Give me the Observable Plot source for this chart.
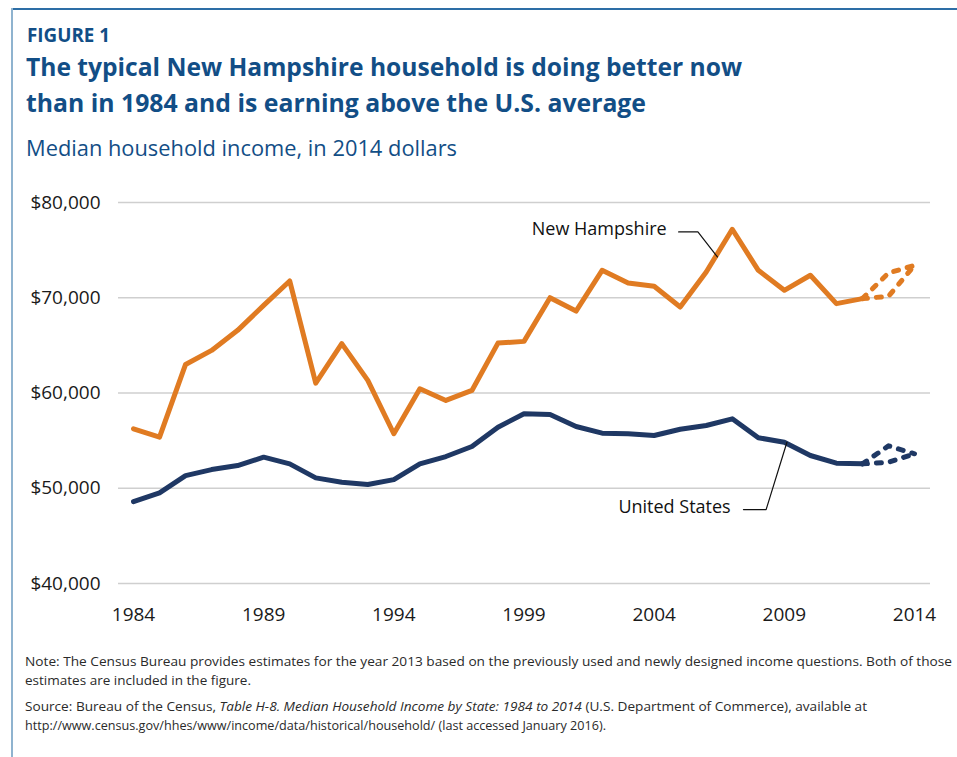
<!DOCTYPE html>
<html><head><meta charset="utf-8">
<script src="https://cdn.jsdelivr.net/npm/d3@7"></script>
<script src="https://cdn.jsdelivr.net/npm/@observablehq/plot@0.6"></script>
<style>
body{margin:0;background:#fff;font-family:"Open Sans",sans-serif;}
#page{position:relative;width:957px;height:757px;overflow:hidden;background:#fff;}
.frameTop{position:absolute;left:12px;top:8px;right:0;height:2px;background:#2d6ea6;}
.frameLeft{position:absolute;left:11px;top:8px;width:2px;bottom:0;background:#8fb3cf;}
.t{position:absolute;white-space:nowrap;line-height:1;transform-origin:0 0;}
.blue{color:#124e86;}
#fig{left:27px;top:24.5px;font-size:19.5px;font-weight:700;}
#t1{left:26px;top:54px;font-size:25px;font-weight:700;}
#t2{left:26px;top:89.5px;font-size:25px;font-weight:700;}
#sub{left:26px;top:138px;font-size:21px;font-weight:400;}
.note{font-size:13.5px;color:#2a2a2a;left:25px;}
#chart{position:absolute;left:0;top:170px;}
</style></head>
<body><div id="page">
<div class="frameTop"></div><div class="frameLeft"></div>
<div class="t blue" id="fig" data-w="83">FIGURE 1</div>
<div class="t blue" id="t1" data-w="716">The typical New Hampshire household is doing better now</div>
<div class="t blue" id="t2" data-w="620">than in 1984 and is earning above the U.S. average</div>
<div class="t blue" id="sub" data-w="431">Median household income, in 2014 dollars</div>
<div id="chart"></div>
<div class="t note" style="top:655px" data-w="927">Note: The Census Bureau provides estimates for the year 2013 based on the previously used and newly designed income questions. Both of those</div>
<div class="t note" style="top:674px" data-w="226">estimates are included in the figure.</div>
<div class="t note" style="top:700px" data-w="842">Source: Bureau of the Census, <i>Table H-8. Median Household Income by State: 1984 to 2014</i> (U.S. Department of Commerce), available at</div>
<div class="t note" style="top:719px" data-w="581">http://www.census.gov/hhes/www/income/data/historical/household/ (last accessed January 2016).</div>
</div>
<script>
// ---- data ----
const years = [1984,1985,1986,1987,1988,1989,1990,1991,1992,1993,1994,1995,1996,1997,1998,1999,2000,2001,2002,2003,2004,2005,2006,2007,2008,2009,2010,2011,2012];
const nhValues = [56240,55360,63000,64470,66580,69200,71760,61040,65180,61320,55720,60450,59220,60270,65240,65420,70010,68600,72880,71550,71200,69030,72700,77190,72880,70780,72360,69380,69910];
const usValues = [48600,49520,51330,51960,52380,53260,52560,51090,50630,50390,50910,52560,53330,54380,56410,57820,57750,56480,55780,55720,55540,56200,56590,57290,55300,54830,53440,52630,52560];
const estYears = [2012,2013,2014];
const nhEstOld = [69910,72600,73400];
const nhEstNew = [69910,70150,73400];
const usEstOld = [52560,54450,53620];
const usEstNew = [52560,52730,53620];
const yTicks = [40000,50000,60000,70000,80000];
const xTicks = [1984,1989,1994,1999,2004,2009,2014];
const seriesNames = ["New Hampshire","United States"];
const seriesColors = ["#e07b22","#1f3864"];
// annotation anchors (data space)
const labelYears = [2004.48, 2006.94];
const labelValues = [77190, 47970];
const nhLeaderYears = [2004.94, 2005.68, 2006.43];
const nhLeaderValues = [76910, 76910, 74280];
const usLeaderYears = [2007.43, 2008.3, 2009.1];
const usLeaderValues = [47760, 47760, 54830];

const rows = (xs, ys) => xs.map((x, i) => ({year: x, value: ys[i]}));

const chart = Plot.plot({
  width: 957, height: 473,
  marginLeft: 118, marginRight: 27, marginTop: 32, marginBottom: 60,
  x: {domain: [1984, 2014], insetLeft: 15, insetRight: 16, label: null},
  y: {domain: [40000, 80000], label: null},
  style: {fontFamily: "Open Sans, sans-serif", fontSize: "19px", color: "#1a1a1a", background: "transparent"},
  marks: [
    Plot.gridY(yTicks, {stroke: "#cfcfcf", strokeOpacity: 1, strokeWidth: 1.5}),
    Plot.axisY(yTicks, {tickSize: 0, tickPadding: 18, tickFormat: d => "$" + d3.format(",")(d), fontSize: 19, label: null}),
    Plot.axisX(xTicks, {tickSize: 0, tickPadding: 24, tickFormat: d => String(d), fontSize: 19, label: null}),
    Plot.line(rows(years, nhValues), {x: "year", y: "value", stroke: seriesColors[0], strokeWidth: 5}),
    Plot.line(rows(years, usValues), {x: "year", y: "value", stroke: seriesColors[1], strokeWidth: 5}),
    Plot.line(rows(estYears, nhEstOld), {x: "year", y: "value", stroke: seriesColors[0], strokeWidth: 5, strokeDasharray: "5,9", strokeLinecap: "round"}),
    Plot.line(rows(estYears, nhEstNew), {x: "year", y: "value", stroke: seriesColors[0], strokeWidth: 5, strokeDasharray: "5,9", strokeLinecap: "round"}),
    Plot.line(rows(estYears, usEstOld), {x: "year", y: "value", stroke: seriesColors[1], strokeWidth: 5, strokeDasharray: "5,9", strokeLinecap: "round"}),
    Plot.line(rows(estYears, usEstNew), {x: "year", y: "value", stroke: seriesColors[1], strokeWidth: 5, strokeDasharray: "5,9", strokeLinecap: "round"}),
    Plot.line(rows(nhLeaderYears, nhLeaderValues), {x: "year", y: "value", stroke: "#111", strokeWidth: 1.2}),
    Plot.line(rows(usLeaderYears, usLeaderValues), {x: "year", y: "value", stroke: "#111", strokeWidth: 1.2}),
    Plot.text(seriesNames.map((n, i) => ({year: labelYears[i], value: labelValues[i], name: n})),
      {x: "year", y: "value", text: "name", textAnchor: "end", fontSize: 18, fill: "#111"})
  ]
});
document.getElementById("chart").appendChild(chart);

// fit text widths
document.querySelectorAll("[data-w]").forEach(el => {
  const w = el.getBoundingClientRect().width;
  const target = +el.dataset.w;
  if (w > 0) el.style.transform = `scaleX(${target / w})`;
});
</script>
</body></html>
